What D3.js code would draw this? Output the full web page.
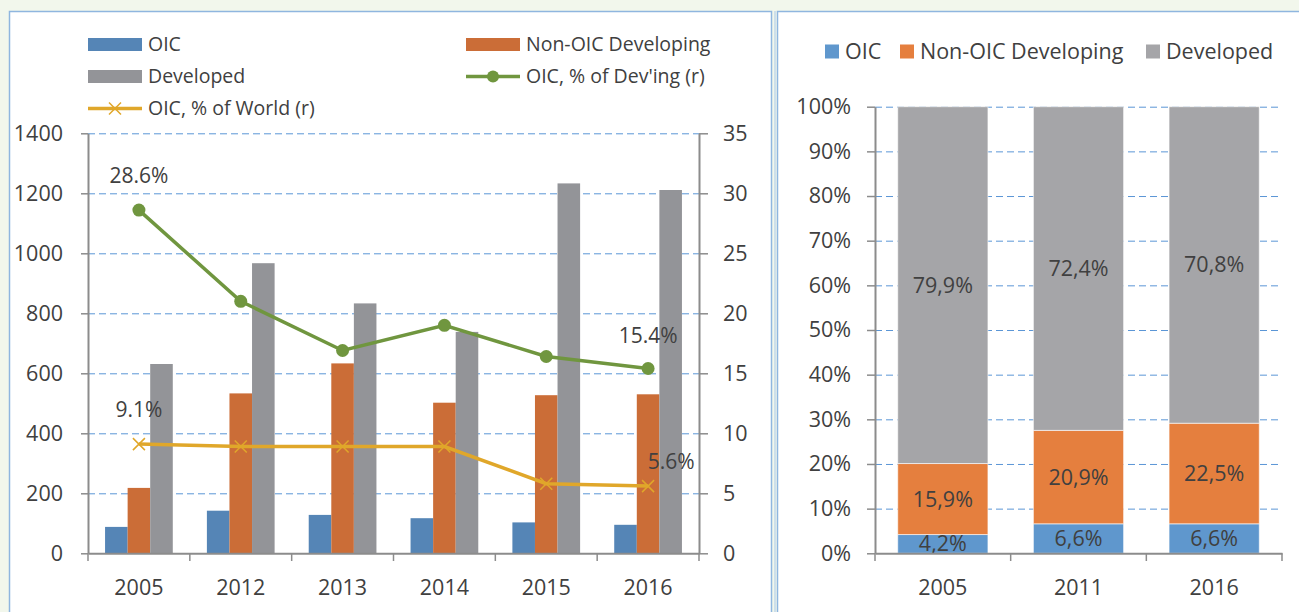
<!DOCTYPE html>
<html>
<head>
<meta charset="utf-8">
<script src="https://cdn.jsdelivr.net/npm/d3@7"></script>
<style>
  body { margin: 0; background: #f2f7ec; }
  svg { display: block; font-family: "Open Sans", sans-serif; }
  .tick text { fill: #404040; }
</style>
</head>
<body>
<svg id="chart" width="1299" height="612"></svg>
<script>
// left chart data
var years = ["2005", "2012", "2013", "2014", "2015", "2016"];
var oic = [88, 142, 128, 117, 103, 95];
var nonOic = [218, 533, 633, 502, 527, 530];
var developed = [631, 967, 833, 738, 1233, 1211];
var pctDev = [28.6, 21.0, 16.9, 19.0, 16.4, 15.4];
var pctWorld = [9.1, 8.9, 8.9, 8.9, 5.8, 5.6];
var leftTicks = [0, 200, 400, 600, 800, 1000, 1200, 1400];
var rightTicks = [0, 5, 10, 15, 20, 25, 30, 35];

// right chart data
var shareYears = ["2005", "2011", "2016"];
var shareOic = [4.2, 6.6, 6.6];
var shareNonOic = [15.9, 20.9, 22.5];
var shareDev = [79.9, 72.4, 70.8];
var shareTicks = [0, 0.1, 0.2, 0.3, 0.4, 0.5, 0.6, 0.7, 0.8, 0.9, 1];

var colors = { oic: "#5585b6", non: "#cb6d37", dev: "#939498", green: "#70963f", gold: "#e0a72a" };
var shareColors = { oic: "#5f97cd", non: "#e57f3e", dev: "#a5a5a8" };
var gridColor = "#5b96d6", axisColor = "#8c8c8c";
var font = "'Open Sans', sans-serif";
var tickFont = 21.5;

var svg = d3.select("#chart");

// panels
svg.append("rect").attr("x", 9.5).attr("y", 11.5).attr("width", 762).attr("height", 620)
  .attr("fill", "#fff").attr("stroke", "#8fb6df").attr("stroke-width", 1.5);
svg.append("line").attr("x1", 775).attr("x2", 775).attr("y1", 11).attr("y2", 612)
  .attr("stroke", "#a9c8e8").attr("stroke-width", 1);
svg.append("rect").attr("x", 777.5).attr("y", 11.5).attr("width", 540).attr("height", 620)
  .attr("fill", "#fff").attr("stroke", "#8fb6df").attr("stroke-width", 1.5);

// ---------- left chart ----------
var x = d3.scaleBand().domain(years).range([88, 699]).paddingInner(0.335).paddingOuter(0.1675);
var xs = d3.scaleBand().domain(["oic", "non", "dev"]).range([0, x.bandwidth()]);
var y = d3.scaleLinear().domain([0, 1400]).range([553.3, 133.3]);
var y2 = d3.scaleLinear().domain([0, 35]).range([553.3, 133.3]);

var left = svg.append("g");

// grid
left.append("g").attr("transform", "translate(88,0)")
  .call(d3.axisLeft(y).tickValues(leftTicks.slice(1)).tickSize(-611).tickFormat(""))
  .call(function (g) {
    g.select(".domain").remove();
    g.selectAll("line").attr("stroke", gridColor).attr("stroke-width", 1).attr("stroke-dasharray", "7,4");
  });

// bars
var barData = years.map(function (yr, i) {
  return [{ k: "oic", v: oic[i] }, { k: "non", v: nonOic[i] }, { k: "dev", v: developed[i] }];
});
left.append("g").selectAll("g").data(barData).join("g")
  .attr("transform", function (d, i) { return "translate(" + x(years[i]) + ",0)"; })
  .selectAll("rect").data(function (d) { return d; }).join("rect")
  .attr("x", function (d) { return xs(d.k); })
  .attr("width", xs.bandwidth())
  .attr("y", function (d) { return y(d.v); })
  .attr("height", function (d) { return y(0) - y(d.v); })
  .attr("fill", function (d) { return colors[d.k]; });

// axes
function styleAxis(g, size) {
  g.attr("font-family", font).attr("font-size", size);
  g.select(".domain").attr("stroke", axisColor).attr("stroke-width", 2);
  g.selectAll(".tick line").attr("stroke", axisColor).attr("stroke-width", 1.5);
}
left.append("g").attr("transform", "translate(88,0)")
  .call(d3.axisLeft(y).tickValues(leftTicks).tickSize(7).tickPadding(18).tickSizeOuter(0).tickFormat(d3.format("d")))
  .call(function (g) { styleAxis(g, tickFont); });
left.append("g").attr("transform", "translate(699,0)")
  .call(d3.axisRight(y2).tickValues(rightTicks).tickSize(9).tickPadding(15).tickSizeOuter(0))
  .call(function (g) { styleAxis(g, tickFont); });
left.append("g").attr("transform", "translate(0,553.3)")
  .call(d3.axisBottom(x).tickSize(0).tickPadding(26))
  .call(function (g) { styleAxis(g, tickFont); });
left.append("g").selectAll("line").data(d3.range(years.length + 1)).join("line")
  .attr("x1", function (i) { return 88 + i * x.step(); })
  .attr("x2", function (i) { return 88 + i * x.step(); })
  .attr("y1", 553.3).attr("y2", 561)
  .attr("stroke", axisColor).attr("stroke-width", 1.5);

// lines
function cx(i) { return x(years[i]) + x.bandwidth() / 2; }
var lineDev = d3.line().x(function (d, i) { return cx(i); }).y(function (d) { return y2(d); });
left.append("path").datum(pctWorld).attr("d", lineDev).attr("fill", "none")
  .attr("stroke", colors.gold).attr("stroke-width", 3.5);
left.append("g").selectAll("path").data(pctWorld).join("path")
  .attr("d", "M-6,-6L6,6M-6,6L6,-6")
  .attr("transform", function (d, i) { return "translate(" + cx(i) + "," + y2(d) + ")"; })
  .attr("stroke", colors.gold).attr("stroke-width", 1.5);
left.append("path").datum(pctDev).attr("d", lineDev).attr("fill", "none")
  .attr("stroke", colors.green).attr("stroke-width", 3.5);
left.append("g").selectAll("circle").data(pctDev).join("circle")
  .attr("cx", function (d, i) { return cx(i); })
  .attr("cy", function (d) { return y2(d); })
  .attr("r", 6.5).attr("fill", colors.green);

// data labels (first and last points)
var lineLabels = [
  { s: pctDev, i: 0, dx: 0, dy: -27 },
  { s: pctDev, i: 5, dx: 0, dy: -26 },
  { s: pctWorld, i: 0, dx: 0, dy: -27 },
  { s: pctWorld, i: 5, dx: 23, dy: -17 }
];
left.append("g").selectAll("text").data(lineLabels).join("text")
  .attr("x", function (d) { return cx(d.i) + d.dx; })
  .attr("y", function (d) { return y2(d.s[d.i]) + d.dy; })
  .attr("text-anchor", "middle").attr("font-size", 21).attr("fill", "#404040")
  .text(function (d) { return d.s[d.i].toFixed(1) + "%"; });

// left legend
var legL = left.append("g").attr("font-size", 19.5).attr("fill", "#404040");
var legItems = [
  { t: "OIC", k: "oic", x: 88, y: 44.5, type: "bar" },
  { t: "Non-OIC Developing", k: "non", x: 466, y: 44.5, type: "bar" },
  { t: "Developed", k: "dev", x: 88, y: 76.5, type: "bar" },
  { t: "OIC, % of Dev'ing (r)", k: "green", x: 466, y: 76.5, type: "circle" },
  { t: "OIC, % of World (r)", k: "gold", x: 88, y: 108.5, type: "cross" }
];
legItems.forEach(function (d) {
  var g = legL.append("g").attr("transform", "translate(" + d.x + "," + d.y + ")");
  if (d.type === "bar") {
    g.append("rect").attr("x", 0).attr("y", -6.5).attr("width", 54).attr("height", 13).attr("fill", colors[d.k]);
  } else {
    g.append("line").attr("x1", 0).attr("x2", 54).attr("stroke", colors[d.k]).attr("stroke-width", 3.5);
    if (d.type === "circle") g.append("circle").attr("cx", 27).attr("r", 6).attr("fill", colors[d.k]);
    else g.append("path").attr("d", "M21,-6L33,6M21,6L33,-6").attr("stroke", colors[d.k]).attr("stroke-width", 1.5);
  }
  g.append("text").attr("x", 60).attr("dy", "0.35em").text(d.t);
});

// ---------- right chart ----------
var right = svg.append("g");
var xr = d3.scaleBand().domain(shareYears).range([875, 1282]).paddingInner(0.335).paddingOuter(0.1675);
var yr = d3.scaleLinear().domain([0, 1]).range([553.3, 106.7]);

right.append("g").attr("transform", "translate(875,0)")
  .call(d3.axisLeft(yr).tickValues(shareTicks.slice(1)).tickSize(-407).tickFormat(""))
  .call(function (g) {
    g.select(".domain").remove();
    g.selectAll("line").attr("stroke", gridColor).attr("stroke-width", 1).attr("stroke-dasharray", "7,4");
  });

var keys = ["oic", "non", "dev"];
var shareRows = shareYears.map(function (yr0, i) {
  return { year: yr0, oic: shareOic[i], non: shareNonOic[i], dev: shareDev[i] };
});
var stacked = d3.stack().keys(keys).offset(d3.stackOffsetExpand)(shareRows);

var seg = right.append("g").selectAll("g").data(stacked).join("g")
  .attr("fill", function (s) { return shareColors[s.key]; });
seg.selectAll("rect").data(function (s) { return s; }).join("rect")
  .attr("x", function (d) { return xr(d.data.year); })
  .attr("width", xr.bandwidth())
  .attr("y", function (d) { return yr(d[1]); })
  .attr("height", function (d) { return yr(d[0]) - yr(d[1]); })
  .attr("stroke", "#ffffff").attr("stroke-opacity", 0.6).attr("stroke-width", 1);

var fmtComma = function (v) { return v.toFixed(1).replace(".", ",") + "%"; };
stacked.forEach(function (s) {
  right.append("g").selectAll("text").data(s).join("text")
    .attr("x", function (d) { return xr(d.data.year) + xr.bandwidth() / 2; })
    .attr("y", function (d) { return yr((d[0] + d[1]) / 2); })
    .attr("dy", "0.35em")
    .attr("text-anchor", "middle").attr("font-size", 21.5).attr("fill", "#404040")
    .text(function (d) { return fmtComma(d.data[s.key]); });
});

right.append("g").attr("transform", "translate(875,0)")
  .call(d3.axisLeft(yr).tickValues(shareTicks).tickSize(8).tickPadding(16).tickSizeOuter(0)
    .tickFormat(d3.format(".0%")))
  .call(function (g) { styleAxis(g, tickFont); });
right.append("g").attr("transform", "translate(0,553.3)")
  .call(d3.axisBottom(xr).tickSize(0).tickPadding(26))
  .call(function (g) { styleAxis(g, tickFont); });
right.append("g").selectAll("line").data(d3.range(shareYears.length + 1)).join("line")
  .attr("x1", function (i) { return 875 + i * xr.step(); })
  .attr("x2", function (i) { return 875 + i * xr.step(); })
  .attr("y1", 553.3).attr("y2", 561)
  .attr("stroke", axisColor).attr("stroke-width", 1.5);

// right legend
var legR = right.append("g").attr("font-size", 21.5).attr("fill", "#404040");
var legR_items = [
  { t: "OIC", k: "oic", x: 825 },
  { t: "Non-OIC Developing", k: "non", x: 900 },
  { t: "Developed", k: "dev", x: 1146 }
];
legR_items.forEach(function (d) {
  var g = legR.append("g").attr("transform", "translate(" + d.x + ",51.5)");
  g.append("rect").attr("y", -7).attr("width", 14).attr("height", 14).attr("fill", shareColors[d.k]);
  g.append("text").attr("x", 20).attr("dy", "0.35em").text(d.t);
});
</script>
</body>
</html>
